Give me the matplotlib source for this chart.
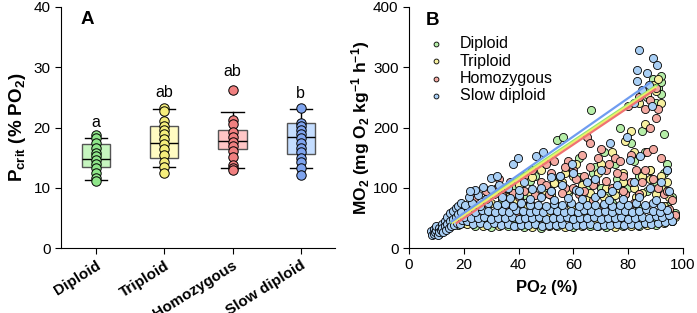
import matplotlib
matplotlib.use("Agg")
import matplotlib.pyplot as plt
import numpy as np

plt.rcParams['font.family'] = ['Liberation Sans', 'DejaVu Sans']
plt.rcParams['mathtext.fontset'] = 'custom'
plt.rcParams['mathtext.rm'] = 'Liberation Sans'
plt.rcParams['mathtext.bf'] = 'Liberation Sans:bold'
plt.rcParams['mathtext.it'] = 'Liberation Sans:italic'

# ---- panel A data: Pcrit (% PO2) ----
groups = ["Diploid", "Triploid", "Homozygous", "Slow diploid"]
letters = ["a", "ab", "ab", "b"]
letter_y = [19.6, 24.6, 28.0, 24.4]

pcrit_diploid = [18.8, 18.2, 17.5, 16.6, 15.8, 15.2, 14.6, 14.0, 13.2, 12.4, 11.6, 11.2]
pcrit_triploid = [23.2, 22.8, 21.0, 20.3, 19.6, 18.9, 18.1, 17.3, 16.4, 15.4, 14.3, 13.5, 12.5]
pcrit_homozygous = [26.3, 21.2, 20.5, 19.3, 18.4, 17.6, 16.9, 16.1, 15.1, 13.8, 13.2, 13.0]
pcrit_slow = [23.3, 20.8, 20.2, 19.6, 18.9, 18.2, 17.5, 16.6, 15.9, 15.0, 14.2, 13.3, 12.1]

# box statistics
box_whislo = [11.3, 13.5, 13.2, 13.2]
box_q1 = [13.4, 14.9, 16.4, 15.6]
box_med = [14.8, 17.5, 17.7, 18.4]
box_q3 = [17.2, 20.2, 19.6, 20.8]
box_whishi = [18.2, 23.0, 22.5, 23.0]

box_fill = ["#c6f5bf", "#fffbc2", "#ffc6c6", "#c4ddff"]
dot_fill = ["#8fe68a", "#f5ee7c", "#f08080", "#7fa4ee"]

# ---- panel B data: MO2 vs PO2 ----
dip_po2 = [9, 10, 11, 12, 13, 14, 15, 16, 17, 18, 19, 20, 22, 24, 26, 28, 30, 32, 34, 36, 38, 40, 42, 44, 46, 48,
           50, 52, 54, 53.9, 56.3, 56, 58, 60, 62, 63, 64, 66.3, 67, 68, 70, 71, 72, 74, 75, 76, 77, 78, 79, 80,
           81, 82, 83, 84, 85, 86, 87, 88, 88, 89, 90, 90, 91, 92, 92, 92, 93, 94, 95, 96, 97, 94,
           18, 24, 30, 36, 42, 48, 54, 60, 66, 72, 78, 84, 90, 96,
           34, 38, 42, 46, 50, 54, 58, 62, 65, 68, 72, 76, 80, 84, 87, 90, 93, 96]
dip_mo2 = [26, 33, 24, 36, 30, 42, 48, 40, 55, 46, 60, 42, 52, 40, 62, 42, 40, 48, 40, 92, 40, 50, 42, 112, 40, 58,
           42, 95, 40, 179, 185, 48, 130, 42, 150, 60, 40, 229, 125, 44, 100, 160, 40, 75, 140, 42, 200, 110, 90, 45,
           175, 145, 40, 65, 195, 160, 250, 270, 130, 280, 240, 50, 265, 275, 285, 255, 190, 70, 55, 45, 58, 140,
           38, 36, 35, 36, 35, 34, 36, 35, 36, 35, 36, 37, 38, 45,
           80, 100, 88, 120, 95, 110, 92, 118, 100, 135, 90, 115, 100, 120, 95, 110, 125, 85]

tri_po2 = [9, 11, 13, 15, 17, 19, 21, 23, 25, 27, 29, 31, 33, 35, 37, 39, 41, 43, 45, 47, 49, 51, 53, 55, 57, 59,
           61, 62, 64, 65, 67, 68, 70, 71, 73, 74, 76, 77, 78, 79, 80, 81, 82, 83, 84, 85, 86, 87, 88, 89, 90, 90,
           91, 92, 92, 93, 94, 95, 96,
           21, 27, 33, 39, 45, 51, 57, 63, 69, 75, 81, 87, 93, 97,
           30, 36, 40, 44, 48, 52, 56, 58, 60, 63, 66, 69, 72, 75, 78, 82, 85, 88, 92, 95]
tri_mo2 = [30, 28, 38, 44, 50, 48, 58, 44, 70, 48, 88, 46, 60, 100, 52, 80, 46, 70, 118, 50, 90, 60, 108, 48, 125, 70,
           140, 95, 52, 80, 110, 48, 140, 85, 60, 160, 100, 55, 125, 178, 60, 195, 160, 85, 240, 120, 205, 255, 130, 270,
           260, 90, 280, 240, 120, 70, 110, 60, 50,
           40, 37, 36, 37, 35, 36, 35, 37, 36, 35, 37, 38, 42, 52,
           75, 85, 105, 92, 130, 88, 110, 96, 120, 105, 92, 125, 100, 88, 110, 100, 92, 115, 100, 85]

hom_po2 = [10, 12, 14, 16, 18, 20, 22, 24, 26, 28, 30, 32, 33, 35, 37, 39, 40, 42, 44, 45, 47, 48, 50, 51, 53, 54,
           55, 57, 58, 59, 60, 62, 63, 64, 65, 66, 67, 68, 69, 70, 71, 72, 74, 75, 76, 77, 78, 79, 80, 81, 82, 83,
           84, 85, 86, 87, 88, 88, 89, 90, 90, 91, 92, 93, 94, 95, 96, 97,
           42, 46, 50, 52, 56, 60, 61, 64, 66, 70, 72, 73, 76, 78, 81, 84, 86, 89, 91, 94, 38, 34, 28, 57, 67]
hom_mo2 = [28, 34, 40, 48, 58, 70, 50, 85, 60, 95, 55, 100, 115, 70, 110, 60, 85, 120, 75, 130, 65, 110, 140, 90, 145, 70,
           120, 100, 145, 60, 130, 90, 155, 120, 185, 175, 80, 110, 150, 165, 70, 130, 100, 150, 60, 145, 120, 90, 235, 155,
           75, 130, 250, 110, 230, 160, 200, 245, 165, 215, 265, 230, 150, 90, 130, 65, 80, 55,
           95, 88, 105, 125, 92, 100, 115, 95, 135, 92, 112, 140, 125, 95, 110, 90, 130, 115, 100, 95, 92, 88, 80, 135, 105]

slow_po2 = [8, 8.5, 9, 9, 9.5, 10, 10, 10.5, 11, 11, 11.5, 12, 12, 12.5, 13, 13, 13.5, 14, 14, 14.5, 15, 15, 15.5,
            16, 16, 16.5, 17, 17, 17.5, 18, 18, 18.5, 19, 19, 19.5,
            21, 23.5, 26, 28.5, 31, 33.5, 36, 38.5, 41, 43.5, 46, 48.5, 51, 53.5, 56, 58.5, 61, 63.5, 66, 68.5, 71,
            73.5, 76, 78.5, 81, 83.5, 86, 88.5, 91, 93.5, 96,
            20, 22.5, 25, 27.5, 30, 32.5, 35, 37.5, 40, 42.5, 45, 47.5, 50, 52.5, 55, 57.5, 60, 62.5, 65, 67.5, 70,
            72.5, 75, 77.5, 80, 82.5, 85, 87.5, 90, 92.5, 95,
            21.5, 24, 26.5, 29, 31.5, 34, 36.5, 39, 41.5, 44, 46.5, 49, 51.5, 54, 56.5, 59, 61.5, 64, 66.5, 69, 71.5,
            74, 76.5, 79, 81.5, 84, 86.5, 89, 91.5, 94,
            20.5, 23, 26, 29, 32, 35, 38, 41, 44, 47, 50, 53, 56, 59, 62, 65, 68, 71, 74, 77, 80, 83, 86, 89, 92,
            22, 25, 28, 31, 34, 37, 40, 44, 48, 53, 58, 63, 68, 73, 78, 84, 90,
            24, 27, 30, 33, 36, 40, 45, 52, 61, 70,
            22.4, 29.9, 32, 37.9, 39.7, 46.4, 49, 59.4, 73.4, 79.5, 80.7, 84.3, 88.6, 94, 83.3, 84.1, 86.7, 89.2,
            90.4, 83.3, 85, 87.5, 82, 55, 65, 70, 76, 92,
            42, 48, 56, 62, 68, 74, 82, 88, 95, 52, 60]
slow_mo2 = [28, 22, 32, 24, 26, 30, 36, 22, 34, 27, 30, 40, 33, 26, 45, 36, 30, 52, 40, 34, 58, 44, 36,
            62, 48, 38, 66, 52, 42, 70, 56, 40, 75, 60, 46,
            44, 40, 42, 39, 41, 38, 40, 37, 39, 38, 40, 37, 39, 38, 40, 37, 39, 38, 40, 37, 39,
            38, 40, 38, 40, 39, 41, 40, 42, 43, 45,
            52, 50, 49, 51, 48, 50, 49, 51, 48, 50, 49, 51, 48, 50, 49, 51, 48, 50, 49, 51, 48,
            50, 49, 51, 48, 50, 52, 50, 53, 51, 55,
            62, 60, 63, 61, 59, 62, 60, 63, 61, 59, 62, 60, 63, 61, 59, 62, 60, 63, 61, 59, 62,
            60, 63, 61, 59, 62, 64, 62, 60, 63,
            72, 75, 70, 74, 71, 73, 70, 74, 71, 72, 70, 73, 71, 74, 70, 72, 71, 73, 70, 72, 71, 74, 72, 75, 70,
            84, 88, 82, 90, 85, 83, 88, 82, 84, 80, 83, 81, 84, 80, 82, 85, 80,
            96, 102, 98, 105, 100, 96, 98, 94, 96, 92,
            95, 116, 120, 140, 149, 153, 160, 140, 174, 185, 146, 152, 235, 129, 295, 328, 290, 315,
            304, 278, 262, 270, 240, 120, 110, 130, 105, 110,
            110, 100, 105, 95, 115, 95, 110, 100, 95, 118, 125]

# regression lines (intercept, slope, PO2 range)
fit_groups = ["Diploid", "Triploid", "Homozygous", "Slow diploid"]
fit_a = [-3.7, -6.6, -11.7, -5.6]
fit_b = [3.03, 3.04, 3.06, 3.18]
fit_x0 = [15.3, 16.0, 17.4, 15.6]
fit_x1 = [90.4, 90.0, 89.8, 88.0]

sc_fill = ["#b6eea8", "#f7f09f", "#f4aaa2", "#a9cff5"]
line_col = ["#8fe870", "#eeee6a", "#f07272", "#6f9cf0"]

fig = plt.figure(figsize=(6.97, 3.13), dpi=100)

# ---------------- panel A ----------------
axA = fig.add_axes([61/697, 1-248/313, 274/697, 241/313])
stats = []
for i in range(4):
    stats.append(dict(med=box_med[i], q1=box_q1[i], q3=box_q3[i],
                      whislo=box_whislo[i], whishi=box_whishi[i], fliers=[]))
bp = axA.bxp(stats, positions=[1, 2, 3, 4], widths=0.41, patch_artist=True,
             showfliers=False,
             boxprops=dict(edgecolor="#555555", linewidth=1.0),
             medianprops=dict(color="black", linewidth=1.0),
             whiskerprops=dict(color="black", linewidth=1.0),
             capprops=dict(color="black", linewidth=1.0), capwidths=0.33)
for patch, c in zip(bp['boxes'], box_fill):
    patch.set_facecolor(c)

pts = [pcrit_diploid, pcrit_triploid, pcrit_homozygous, pcrit_slow]
for i in range(4):
    axA.scatter(np.full(len(pts[i]), i + 1), pts[i], s=46, facecolor=dot_fill[i],
                edgecolor="black", linewidth=0.7, zorder=3)
    axA.text(i + 1, letter_y[i], letters[i], ha="center", va="bottom", fontsize=11.5)

axA.set_xlim(0.49, 4.5)
axA.set_ylim(0, 40)
axA.set_yticks([0, 10, 20, 30, 40])
axA.set_xticks([1, 2, 3, 4])
axA.set_xticklabels(groups, rotation=32, ha="right", rotation_mode="anchor",
                    fontweight="bold", fontsize=12)
axA.set_ylabel(r"P$_{\mathbf{crit}}$ (% PO$_{\mathbf{2}}$)", fontweight="bold", fontsize=13.5, labelpad=4)
axA.text(0.07, 0.95, "A", transform=axA.transAxes, fontsize=13.5, fontweight="bold", va="center")

# ---------------- panel B ----------------
axB = fig.add_axes([409/697, 1-248/313, 274/697, 241/313])
xs = [dip_po2, tri_po2, hom_po2, slow_po2]
ys = [dip_mo2, tri_mo2, hom_mo2, slow_mo2]
for i in range(4):
    axB.scatter(xs[i], ys[i], s=34, facecolor=sc_fill[i], edgecolor="black",
                linewidth=0.6, label=fit_groups[i], zorder=2)
for i in range(4):
    lx = np.array([fit_x0[i], fit_x1[i]])
    axB.plot(lx, fit_a[i] + fit_b[i] * lx, color=line_col[i], linewidth=1.6, zorder=4)

axB.set_xlim(0, 100)
axB.set_ylim(0, 400)
axB.set_xticks([0, 20, 40, 60, 80, 100])
axB.set_yticks([0, 100, 200, 300, 400])
axB.set_xlabel(r"PO$_{\mathbf{2}}$ (%)", fontweight="bold", fontsize=12)
axB.set_ylabel(r"MO$_{\mathbf{2}}$ (mg O$_{\mathbf{2}}$ kg$^{\mathbf{-1}}$ h$^{\mathbf{-1}}$)",
               fontweight="bold", fontsize=12.5, labelpad=1)
axB.text(0.06, 0.945, "B", transform=axB.transAxes, fontsize=13.5, fontweight="bold", va="center")
axB.legend(loc="upper left", bbox_to_anchor=(0.0, 0.925), frameon=False, fontsize=11.5,
           markerscale=0.6, handletextpad=0.5, labelspacing=0.15, borderpad=0.2)

for ax in (axA, axB):
    ax.spines['top'].set_visible(False)
    ax.spines['right'].set_visible(False)
    ax.tick_params(direction="out", length=4, labelsize=11)

fig.savefig("out.png", dpi=100)
